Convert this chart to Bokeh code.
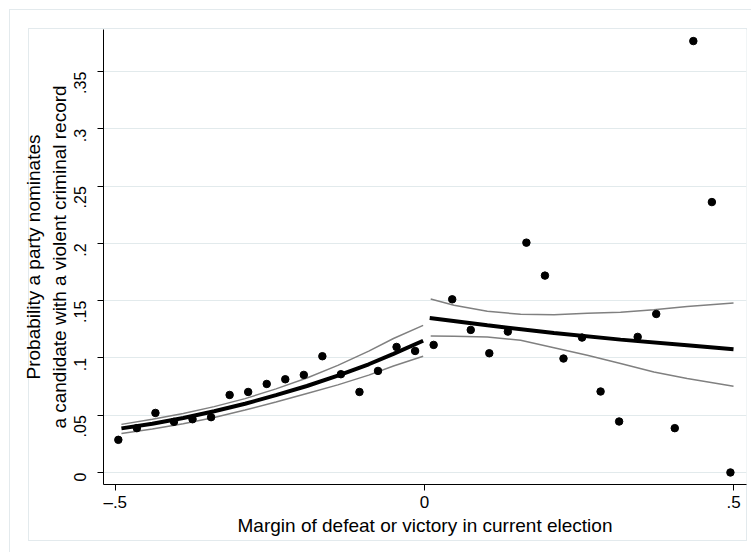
import math
from bokeh.plotting import figure
from bokeh.models import FixedTicker, Range1d
from bokeh.embed import file_html
from bokeh.resources import INLINE

# ---- data ----
bin_x = [-0.495, -0.465, -0.435, -0.405, -0.375, -0.345, -0.315, -0.285, -0.255,
         -0.225, -0.195, -0.165, -0.135, -0.105, -0.075, -0.045, -0.015,
         0.015, 0.045, 0.075, 0.105, 0.135, 0.165, 0.195, 0.225, 0.255,
         0.285, 0.315, 0.345, 0.375, 0.405, 0.435, 0.465, 0.495]
bin_y = [0.0285, 0.0387, 0.0520, 0.0442, 0.0465, 0.0483, 0.0677, 0.0703, 0.0773,
         0.0814, 0.0852, 0.1015, 0.0858, 0.0703, 0.0887, 0.1096, 0.1061,
         0.1114, 0.1512, 0.1245, 0.1041, 0.1230, 0.2007, 0.1719, 0.0995, 0.1178,
         0.0707, 0.0445, 0.1184, 0.1384, 0.0387, 0.3767, 0.2361, 0.0000]

left_x = [-0.49, -0.44, -0.39, -0.34, -0.29, -0.24, -0.19, -0.14, -0.09, -0.05, -0.002]
left_fit = [0.0385, 0.0425, 0.0475, 0.0535, 0.0600, 0.0675, 0.0755, 0.0845, 0.0945, 0.1035, 0.1150]
left_hi = [0.0420, 0.0465, 0.0515, 0.0575, 0.0645, 0.0730, 0.0825, 0.0935, 0.1060, 0.1170, 0.1285]
left_lo = [0.0340, 0.0380, 0.0425, 0.0480, 0.0545, 0.0615, 0.0690, 0.0765, 0.0850, 0.0930, 0.1015]

right_x = [0.0086, 0.1018, 0.2096, 0.3173, 0.425, 0.5]
right_fit = [0.1349, 0.1285, 0.1218, 0.1160, 0.1111, 0.1076]
right_ci_x = [0.0102, 0.0479, 0.1018, 0.1557, 0.2096, 0.2635, 0.3173, 0.3712, 0.425, 0.5]
right_hi = [0.1515, 0.1460, 0.1407, 0.1381, 0.1378, 0.1390, 0.1400, 0.1420, 0.1450, 0.1480]
right_lo = [0.1192, 0.1190, 0.1183, 0.1154, 0.1090, 0.1023, 0.0951, 0.0878, 0.0820, 0.0753]

x_ticks = [-0.5, 0, 0.5]
x_tick_labels = ["\u2013.5", "0", ".5"]
y_ticks = [0, 0.05, 0.1, 0.15, 0.2, 0.25, 0.3, 0.35]
y_tick_labels = ["0", ".05", ".1", ".15", ".2", ".25", ".3", ".35"]

x_title = "Margin of defeat or victory in current election"
y_title = "Probability a party nominates\na candidate with a violent criminal record"

FONT = "Liberation Sans"
FRAME = "#e3eaed"

p = figure(width=751, height=552, output_backend="svg", toolbar_location=None,
           x_range=Range1d(-0.519, 0.521), y_range=Range1d(-0.0105, 0.3868))
p.min_border_left = 103
p.min_border_right = 5
p.min_border_top = 29
p.min_border_bottom = 68
p.background_fill_color = "white"
p.border_fill_color = None
p.outline_line_color = None

# faint graph-region frames drawn as CSS background lines behind the transparent border area
p.styles = {
    "background-color": "white",
    "background-image": ", ".join([f"linear-gradient({FRAME}, {FRAME})"] * 6),
    "background-position": "9px 9px, 9px 9px, 28px 28px, 28px 540px, 28px 28px, 746px 28px",
    "background-size": "742px 1px, 1px 543px, 719px 1px, 719px 1px, 1px 513px, 1px 513px",
    "background-repeat": "no-repeat",
}

# grid
p.xgrid.grid_line_color = None
p.ygrid.grid_line_color = "#e2eaec"
p.ygrid.grid_line_width = 1

for ax in (p.xaxis, p.yaxis):
    ax.axis_line_color = "black"
    ax.axis_line_width = 1
    ax.major_tick_line_color = "black"
    ax.major_tick_out = 6
    ax.major_tick_in = 0
    ax.minor_tick_line_color = None
    ax.major_label_text_font = FONT
    ax.major_label_text_color = "black"
    ax.axis_label_text_font = FONT
    ax.axis_label_text_font_style = "normal"
    ax.axis_label_text_color = "black"

p.xaxis.ticker = FixedTicker(ticks=x_ticks)
p.xaxis.major_label_overrides = dict(zip(x_ticks, x_tick_labels))
p.xaxis.major_label_text_font_size = "17px"
p.xaxis.major_label_standoff = 2
p.xaxis.axis_label = x_title
p.xaxis.axis_label_text_font_size = "19px"
p.xaxis.axis_label_standoff = 0

p.yaxis.ticker = FixedTicker(ticks=y_ticks)
p.yaxis.major_label_overrides = dict(zip(y_ticks, y_tick_labels))
p.yaxis.major_label_text_font_size = "16px"
p.yaxis.major_label_orientation = math.pi / 2
p.yaxis.major_label_standoff = 17
p.yaxis.axis_label = y_title
p.yaxis.axis_label_text_font_size = "19px"
p.yaxis.axis_label_standoff = -4

# CI lines
p.line(left_x, left_hi, line_color="#808080", line_width=1.5)
p.line(left_x, left_lo, line_color="#808080", line_width=1.5)
p.line(right_ci_x, right_hi, line_color="#808080", line_width=1.5)
p.line(right_ci_x, right_lo, line_color="#808080", line_width=1.5)
# fitted lines
p.line(left_x, left_fit, line_color="black", line_width=4)
p.line(right_x, right_fit, line_color="black", line_width=4)
# binned means
p.scatter(bin_x, bin_y, size=7.5, fill_color="black", line_color="black", marker="circle")

open("out.html", "w").write(file_html(p, INLINE))
